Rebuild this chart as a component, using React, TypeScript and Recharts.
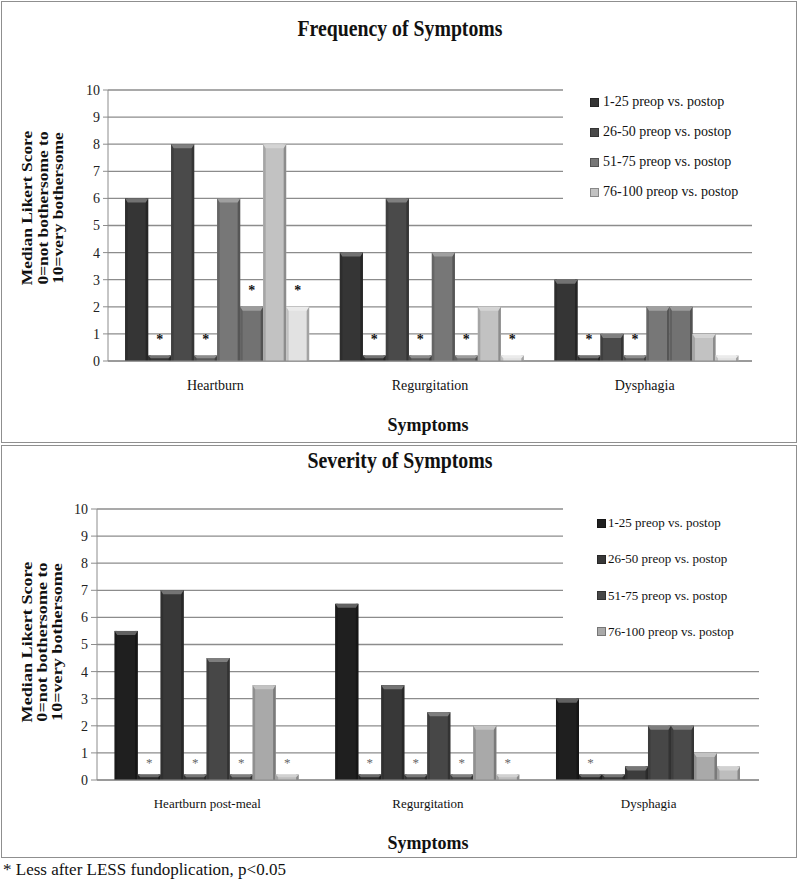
import React from 'react';
import { BarChart, Bar, XAxis, YAxis, CartesianGrid, Legend, LabelList } from 'recharts';

// ---------- data ----------
const yTicks = [0, 1, 2, 3, 4, 5, 6, 7, 8, 9, 10];
const groupLabels = ['1-25 preop vs. postop', '26-50 preop vs. postop', '51-75 preop vs. postop', '76-100 preop vs. postop'];

// Frequency of Symptoms
const freqCategories = ['Heartburn', 'Regurgitation', 'Dysphagia'];
const freqPre1 = [6, 4, 3];
const freqPost1 = [0.2, 0.2, 0.2];
const freqSig1 = ['*', '*', '*'];
const freqPre2 = [8, 6, 1];
const freqPost2 = [0.2, 0.2, 0.2];
const freqSig2 = ['*', '*', '*'];
const freqPre3 = [6, 4, 2];
const freqPost3 = [2, 0.2, 2];
const freqSig3 = ['*', '*', ''];
const freqPre4 = [8, 2, 1];
const freqPost4 = [2, 0.2, 0.2];
const freqSig4 = ['*', '*', ''];

// Severity of Symptoms
const sevCategories = ['Heartburn post-meal', 'Regurgitation', 'Dysphagia'];
const sevPre1 = [5.5, 6.5, 3];
const sevPost1 = [0.2, 0.2, 0.2];
const sevSig1 = ['*', '*', '*'];
const sevPre2 = [7, 3.5, 0.2];
const sevPost2 = [0.2, 0.2, 0.5];
const sevSig2 = ['*', '*', ''];
const sevPre3 = [4.5, 2.5, 2];
const sevPost3 = [0.2, 0.2, 2];
const sevSig3 = ['*', '*', ''];
const sevPre4 = [3.5, 2, 1];
const sevPost4 = [0.2, 0.2, 0.5];
const sevSig4 = ['*', '*', ''];

// ---------- styles ----------
const FONT = '"Liberation Serif", "Times New Roman", serif';
const GRID = '#8c8c8c';
const freqPreColors = ['#353535', '#4a4a4a', '#777777', '#c2c2c2'];
const freqPostColors = ['#353535', '#5a5a5a', '#727272', '#e2e2e2'];
const sevPreColors = ['#1f1f1f', '#383838', '#474747', '#a9a9a9'];
const sevPostColors = ['#2a2a2a', '#3c3c3c', '#4a4a4a', '#bdbdbd'];

function buildRows(cats: string[], pres: number[][], posts: number[][], sigs: string[][]) {
  return cats.map((c, i) => {
    const row: any = { cat: c };
    pres.forEach((arr, g) => {
      row['pre' + g] = arr[i];
      row['post' + g] = posts[g][i];
      row['sig' + g] = sigs[g][i];
    });
    return row;
  });
}

const freqData = buildRows(
  freqCategories,
  [freqPre1, freqPre2, freqPre3, freqPre4],
  [freqPost1, freqPost2, freqPost3, freqPost4],
  [freqSig1, freqSig2, freqSig3, freqSig4]
);
const sevData = buildRows(
  sevCategories,
  [sevPre1, sevPre2, sevPre3, sevPre4],
  [sevPost1, sevPost2, sevPost3, sevPost4],
  [sevSig1, sevSig2, sevSig3, sevSig4]
);

function shade(hex: string, amt: number) {
  const h = hex.replace('#', '');
  const n = [0, 2, 4].map((i) => parseInt(h.substr(i, 2), 16));
  const m = n.map((v) => Math.round(amt >= 0 ? v + (255 - v) * amt : v * (1 + amt)));
  return '#' + m.map((v) => Math.max(0, Math.min(255, v)).toString(16).padStart(2, '0')).join('');
}

const BevelBar = (props: any) => {
  const { x, y, width, height, fill } = props;
  if (!height || height <= 0 || !width) return null;
  const cap = Math.min(4, height / 2);
  const edge = Math.min(2.5, width / 6);
  return (
    <g>
      <rect x={x} y={y} width={width} height={height} fill={fill} />
      <rect x={x} y={y} width={edge} height={height} fill={shade(fill, -0.15)} />
      <rect x={x + width - edge} y={y} width={edge} height={height} fill={shade(fill, -0.28)} />
      <polygon
        points={`${x},${y} ${x + width},${y} ${x + width - edge},${y + cap} ${x + edge},${y + cap}`}
        fill={shade(fill, 0.3)}
      />
    </g>
  );
};

const makeStar = (lift: number, size: number, bold: boolean, color: string) => (props: any) => {
  const vb = props.viewBox || props;
  const value = props.value;
  if (!value || vb == null || vb.x == null) return null;
  return (
    <text
      x={vb.x + vb.width / 2}
      y={vb.y - lift}
      textAnchor="middle"
      fontSize={size}
      fontWeight={bold ? 'bold' : 'normal'}
      fill={color}
      fontFamily={FONT}
    >
      {value}
    </text>
  );
};

const makeXTick = (offset: number, size: number) => (props: any) => {
  const { x, y, payload } = props;
  return (
    <text x={x} y={y + offset} textAnchor="middle" fontSize={size} fill="#111" fontFamily={FONT}>
      {payload.value}
    </text>
  );
};

const makeLegend = (cfg: { first: number; step: number; sqLeft: number; textLeft: number; size: number }) => (props: any) => {
  const items = (props.payload || []).filter((p: any) => p.type !== 'none');
  return (
    <div style={{ position: 'relative', width: '100%', height: '100%' }}>
      {items.map((p: any, i: number) => (
        <div
          key={i}
          style={{
            position: 'absolute',
            left: cfg.sqLeft,
            top: cfg.first + i * cfg.step - 10,
            height: 20,
            display: 'flex',
            alignItems: 'center',
            whiteSpace: 'nowrap',
          }}
        >
          <span
            style={{
              display: 'inline-block',
              width: 7,
              height: 7,
              background: p.color,
              border: '0.5px solid ' + shade(p.color, -0.3),
              marginRight: cfg.textLeft - cfg.sqLeft - 8,
            }}
          />
          <span style={{ fontFamily: FONT, fontSize: cfg.size, color: '#111' }}>{p.value}</span>
        </div>
      ))}
    </div>
  );
};

function renderBars(preColors: string[], postColors: string[], star: any) {
  const out: any[] = [];
  for (let g = 0; g < 4; g++) {
    out.push(
      <Bar
        key={'pre' + g}
        dataKey={'pre' + g}
        name={groupLabels[g]}
        fill={preColors[g]}
        shape={BevelBar}
        isAnimationActive={false}
      />
    );
    out.push(
      <Bar
        key={'post' + g}
        dataKey={'post' + g}
        name={groupLabels[g] + ' (postop)'}
        legendType="none"
        fill={postColors[g]}
        shape={BevelBar}
        isAnimationActive={false}
      >
        <LabelList dataKey={'sig' + g} content={star} />
      </Bar>
    );
  }
  return out;
}

const YTitle = ({ cy, xs, scale }: { cy: number; xs: number[]; scale: number }) => {
  const lines = ['Median Likert Score', '0=not bothersome to', '10=very bothersome'];
  return (
    <g>
      {lines.map((t, i) => (
        <text
          key={i}
          transform={`translate(${xs[i]},${cy}) rotate(-90) scale(${scale},1)`}
          textAnchor="middle"
          fontSize={15.5}
          fontWeight="bold"
          fill="#111"
          fontFamily={FONT}
        >
          {t}
        </text>
      ))}
    </g>
  );
};

export default function App() {
  return (
    <div
      style={{
        position: 'absolute',
        left: 0,
        top: 0,
        width: 800,
        height: 882,
        background: '#fff',
        fontFamily: FONT,
        overflow: 'hidden',
      }}
    >
      <svg style={{ position: 'absolute', left: 0, top: 0 }} width={800} height={882}>
        <rect x={1.5} y={1.5} width={795} height={441} fill="none" stroke="#8f8f8f" />
        <rect x={1.5} y={445.5} width={795} height={412} fill="none" stroke="#8f8f8f" />
        <text x={400} y={36} textAnchor="middle" fontSize={23} fontWeight="bold" fill="#111" fontFamily={FONT} textLength={205} lengthAdjust="spacingAndGlyphs">
          Frequency of Symptoms
        </text>
        <text x={400} y={468} textAnchor="middle" fontSize={23} fontWeight="bold" fill="#111" fontFamily={FONT} textLength={185} lengthAdjust="spacingAndGlyphs">
          Severity of Symptoms
        </text>
        <YTitle cy={208} xs={[32, 48, 63]} scale={1.125} />
        <YTitle cy={642} xs={[32, 47, 62]} scale={1.17} />
        <text x={428} y={431} textAnchor="middle" fontSize={19} fontWeight="bold" fill="#111" fontFamily={FONT} textLength={81} lengthAdjust="spacingAndGlyphs">
          Symptoms
        </text>
        <text x={428} y={849} textAnchor="middle" fontSize={19} fontWeight="bold" fill="#111" fontFamily={FONT} textLength={81} lengthAdjust="spacingAndGlyphs">
          Symptoms
        </text>
        <text x={3} y={875} fontSize={17} fill="#111" fontFamily={FONT}>
          * Less after LESS fundoplication, p&lt;0.05
        </text>
      </svg>

      <div style={{ position: 'absolute', left: 0, top: 0 }}>
        <BarChart
          width={800}
          height={444}
          data={freqData}
          margin={{ top: 90, right: 48, bottom: 53, left: 68 }}
          barCategoryGap="8%"
          barGap={0}
        >
          <CartesianGrid vertical={false} stroke={GRID} strokeWidth={1.3} />
          <XAxis
            dataKey="cat"
            height={30}
            axisLine={{ stroke: GRID }}
            tickLine={false}
            tickSize={0}
            tickMargin={0}
            interval={0}
            tick={makeXTick(29, 14)}
          />
          <YAxis
            width={40}
            domain={[0, 10]}
            ticks={yTicks}
            interval={0}
            axisLine={{ stroke: GRID }}
            tickLine={{ stroke: GRID }}
            tickSize={5}
            tickMargin={3}
            tick={{ fontSize: 14, fill: '#222', fontFamily: FONT }}
          />
          <Legend
            layout="vertical"
            align="center"
            verticalAlign="middle"
            wrapperStyle={{ left: 563, top: 84, width: 189, height: 125, background: '#fff', margin: 0, padding: 0 }}
            content={makeLegend({ first: 18, step: 30, sqLeft: 27, textLeft: 39, size: 14 })}
          />
          {renderBars(freqPreColors, freqPostColors, makeStar(11.4, 14, true, '#111'))}
        </BarChart>
      </div>

      <div style={{ position: 'absolute', left: 0, top: 440 }}>
        <BarChart
          width={800}
          height={420}
          data={sevData}
          margin={{ top: 69, right: 41, bottom: 50, left: 57 }}
          barCategoryGap="8%"
          barGap={0}
        >
          <CartesianGrid vertical={false} stroke={GRID} strokeWidth={1.3} />
          <XAxis
            dataKey="cat"
            height={30}
            axisLine={{ stroke: GRID }}
            tickLine={false}
            tickSize={0}
            tickMargin={0}
            interval={0}
            tick={makeXTick(28, 13)}
          />
          <YAxis
            width={40}
            domain={[0, 10]}
            ticks={yTicks}
            interval={0}
            axisLine={{ stroke: GRID }}
            tickLine={{ stroke: GRID }}
            tickSize={6}
            tickMargin={3}
            tick={{ fontSize: 14, fill: '#222', fontFamily: FONT }}
          />
          <Legend
            layout="vertical"
            align="center"
            verticalAlign="middle"
            wrapperStyle={{ left: 563, top: 60, width: 196, height: 155, background: '#fff', margin: 0, padding: 0 }}
            content={makeLegend({ first: 23, step: 36.3, sqLeft: 34, textLeft: 44, size: 13 })}
          />
          {renderBars(sevPreColors, sevPostColors, makeStar(8, 13, false, '#666'))}
        </BarChart>
      </div>
    </div>
  );
}
